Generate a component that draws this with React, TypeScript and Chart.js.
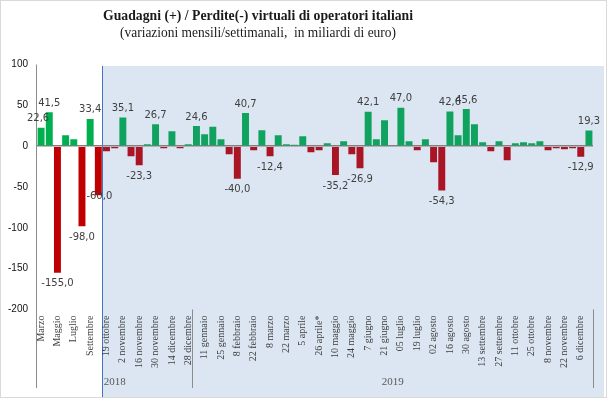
import React, { useEffect, useRef } from "react";
import { Chart, registerables } from "chart.js";

Chart.register(...registerables);

const categories = [
  "Marzo", "Aprile", "Maggio", "Giugno", "Luglio", "Agosto", "Settembre", "Ottobre",
  "19 ottobre", "26 ottobre", "2 novembre", "9 novembre", "16 novembre", "23 novembre", "30 novembre",
  "7 dicembre", "14 dicembre", "21 dicembre", "28 dicembre",
  "4 gennaio", "11 gennaio", "18 gennaio", "25 gennaio", "1 febbraio", "8 febbraio", "15 febbraio",
  "22 febbraio", "1 marzo", "8 marzo", "15 marzo", "22 marzo", "29 marzo", "5 aprile", "12 aprile",
  "26 aprile*", "3 maggio", "10 maggio", "17 maggio", "24 maggio", "31 maggio", "7 giugno", "14 giugno",
  "21 giugno", "28 giugno", "05 luglio", "12 luglio", "19 luglio", "26 luglio", "02 agosto", "09 agosto",
  "16 agosto", "23 agosto", "30 agosto", "6 settembre", "13 settembre", "20 settembre", "27 settembre",
  "4 ottobre", "11 ottobre", "18 ottobre", "25 ottobre", "1 novembre", "8 novembre", "15 novembre",
  "22 novembre", "29 novembre", "6 dicembre", "13 dicembre",
];

const values = [
  22.6, 41.5, -155.0, 13.5, 8.6, -98.0, 33.4, -60.0,
  -6.1, -2.4, 35.1, -12.2, -23.3, 2.4, 26.7, -2.4, 18.4, -2.4, 2.4,
  24.6, 14.7, 23.7, 8.6, -9.8, -40.0, 40.7, -4.9, 19.6, -12.4, 13.5, 2.4, 1.6, 12.2, -7.3, -4.9,
  3.7, -35.2, 6.1, -9.8, -26.9, 42.1, 8.6, 31.8, 0, 47.0, 6.1, -4.9, 8.6, -19.6, -54.3, 42.6,
  13.5, 45.6, 26.9, 4.9, -6.1, 6.1, -17.1, 3.7, 4.9, 3.7, 6.1, -4.9, -2.4, -3.7, -2.4, -12.9, 19.3,
];

const labeledIndices = [0, 1, 2, 5, 6, 7, 10, 12, 14, 19, 24, 25, 28, 36, 39, 40, 44, 49, 50, 52, 66, 67];

const monthlyCount = 8; // monthly 2018 values before the weekly series
const years = ["2018", "2019"];
const yearStartIndex = [0, 19];

const yTicks = [100, 50, 0, -50, -100, -150, -200];

const titleText = "Guadagni (+) / Perdite(-) virtuali di operatori italiani";
const subtitleText = "(variazioni mensili/settimanali,  in miliardi di euro)";

function fmt(v: number) {
  return v.toFixed(1).replace(".", ",");
}

export default function App() {
  const ref = useRef<HTMLCanvasElement | null>(null);

  useEffect(() => {
    document.body.style.margin = "0";
    const canvas = ref.current;
    if (!canvas) return;

    const colors = values.map((v, i) =>
      i < monthlyCount ? (v >= 0 ? "#00B050" : "#C00000") : v >= 0 ? "#10A35F" : "#A91524"
    );

    const decor = {
      id: "decor",
      beforeDraw(chart: any) {
        const { ctx, chartArea, scales } = chart;
        const x = scales.x;
        const H = chart.height;
        ctx.save();
        ctx.fillStyle = "#ffffff";
        ctx.fillRect(0, 0, chart.width, H);
        // shaded weekly region
        const shadeLeft = (x.getPixelForValue(monthlyCount - 1) + x.getPixelForValue(monthlyCount)) / 2;
        const shadeTop = chartArea.top + 1.5;
        ctx.fillStyle = "#DCE6F2";
        ctx.fillRect(shadeLeft, shadeTop, chart.width - 3 - shadeLeft, H - 2 - shadeTop);
        ctx.strokeStyle = "#4472C4";
        ctx.lineWidth = 1;
        ctx.beginPath();
        ctx.moveTo(Math.round(shadeLeft) + 0.5, shadeTop);
        ctx.lineTo(Math.round(shadeLeft) + 0.5, H - 2);
        ctx.stroke();
        ctx.restore();
      },
      afterDraw(chart: any) {
        const { ctx, chartArea, scales } = chart;
        const x = scales.x;
        const H = chart.height;
        const W = chart.width;
        const meta = chart.getDatasetMeta(0);
        ctx.save();
        // axis & group separators
        ctx.strokeStyle = "#8C8C8C";
        ctx.lineWidth = 1;
        const lineBottom = 388;
        const left = Math.round(chartArea.left) - 0.5;
        ctx.beginPath();
        ctx.moveTo(left, chartArea.top);
        ctx.lineTo(left, lineBottom);
        const step = x.getPixelForValue(1) - x.getPixelForValue(0);
        const sep = Math.round(x.getPixelForValue(yearStartIndex[1]) - step / 2) + 0.5;
        ctx.moveTo(sep, chartArea.bottom);
        ctx.lineTo(sep, lineBottom);
        const right = Math.round(chartArea.right) + 0.5;
        ctx.moveTo(right, chartArea.bottom);
        ctx.lineTo(right, lineBottom);
        ctx.stroke();

        // year labels
        ctx.fillStyle = "#595959";
        ctx.font = '11px "Liberation Serif"';
        ctx.textAlign = "center";
        ctx.textBaseline = "middle";
        const bounds = [chartArea.left, sep, chartArea.right];
        years.forEach((y, k) => {
          ctx.fillText(y, (bounds[k] + bounds[k + 1]) / 2, 382);
        });

        // data labels
        ctx.font = '10px "DejaVu Sans"';
        ctx.fillStyle = "#404040";
        labeledIndices.forEach((i) => {
          const el = meta.data[i];
          const v = values[i];
          let lx = el.x;
          let ly = v >= 0 ? el.y - 9 : el.y + 11;
          if (i === 0) lx -= 3;
          if (i === 7) {
            lx += 1;
            ly = el.y + 1;
          }
          ctx.fillText(fmt(v), lx, ly);
        });

        // titles
        ctx.fillStyle = "#1A1A1A";
        ctx.font = 'bold 15px "Liberation Serif"';
        ctx.fillText(titleText, 258, 16, 310);
        ctx.font = '14px "Liberation Serif"';
        ctx.fillText(subtitleText, 258, 33, 276);

        // frame
        ctx.strokeStyle = "#D9D9D9";
        ctx.strokeRect(0.5, 0.5, W - 1, H - 2);
        ctx.restore();
      },
    };

    const chart = new Chart(canvas, {
      type: "bar",
      data: {
        labels: categories,
        datasets: [
          {
            data: values,
            backgroundColor: colors,
            barPercentage: 0.85,
            categoryPercentage: 1,
          },
        ],
      },
      options: {
        responsive: false,
        animation: false,
        devicePixelRatio: 1,
        layout: { padding: { top: 64.5, right: 7.7, left: 0, bottom: 0 } },
        plugins: {
          legend: { display: false },
          tooltip: { enabled: false },
          title: { display: false },
        },
        scales: {
          x: {
            type: "category",
            offset: true,
            grid: { display: false, drawTicks: false },
            border: { display: false },
            afterFit: (s: any) => {
              s.height = 399 - 309.5;
            },
            ticks: {
              autoSkip: false,
              minRotation: 90,
              maxRotation: 90,
              padding: 6,
              color: "#404040",
              font: { family: '"Liberation Serif"', size: 10 },
              callback: (_v: any, i: number) => (i % 2 === 0 ? categories[i] : ""),
            },
          },
          y: {
            min: -200,
            max: 100,
            afterFit: (s: any) => {
              s.width = 37;
            },
            afterBuildTicks: (s: any) => {
              s.ticks = yTicks.map((v) => ({ value: v }));
            },
            border: { display: false },
            grid: {
              drawTicks: false,
              color: (c: any) => (c.tick && c.tick.value === 0 ? "#808080" : "rgba(0,0,0,0)"),
              lineWidth: (c: any) => (c.tick && c.tick.value === 0 ? 1.5 : 0),
            },
            ticks: {
              padding: 9,
              color: "#111111",
              font: { family: '"Liberation Sans"', size: 10 },
            },
          },
        },
      },
      plugins: [decor],
    });

    return () => chart.destroy();
  }, []);

  return (
    <div style={{ width: 607, height: 399 }}>
      <canvas ref={ref} width={607} height={399} style={{ display: "block" }} />
    </div>
  );
}
